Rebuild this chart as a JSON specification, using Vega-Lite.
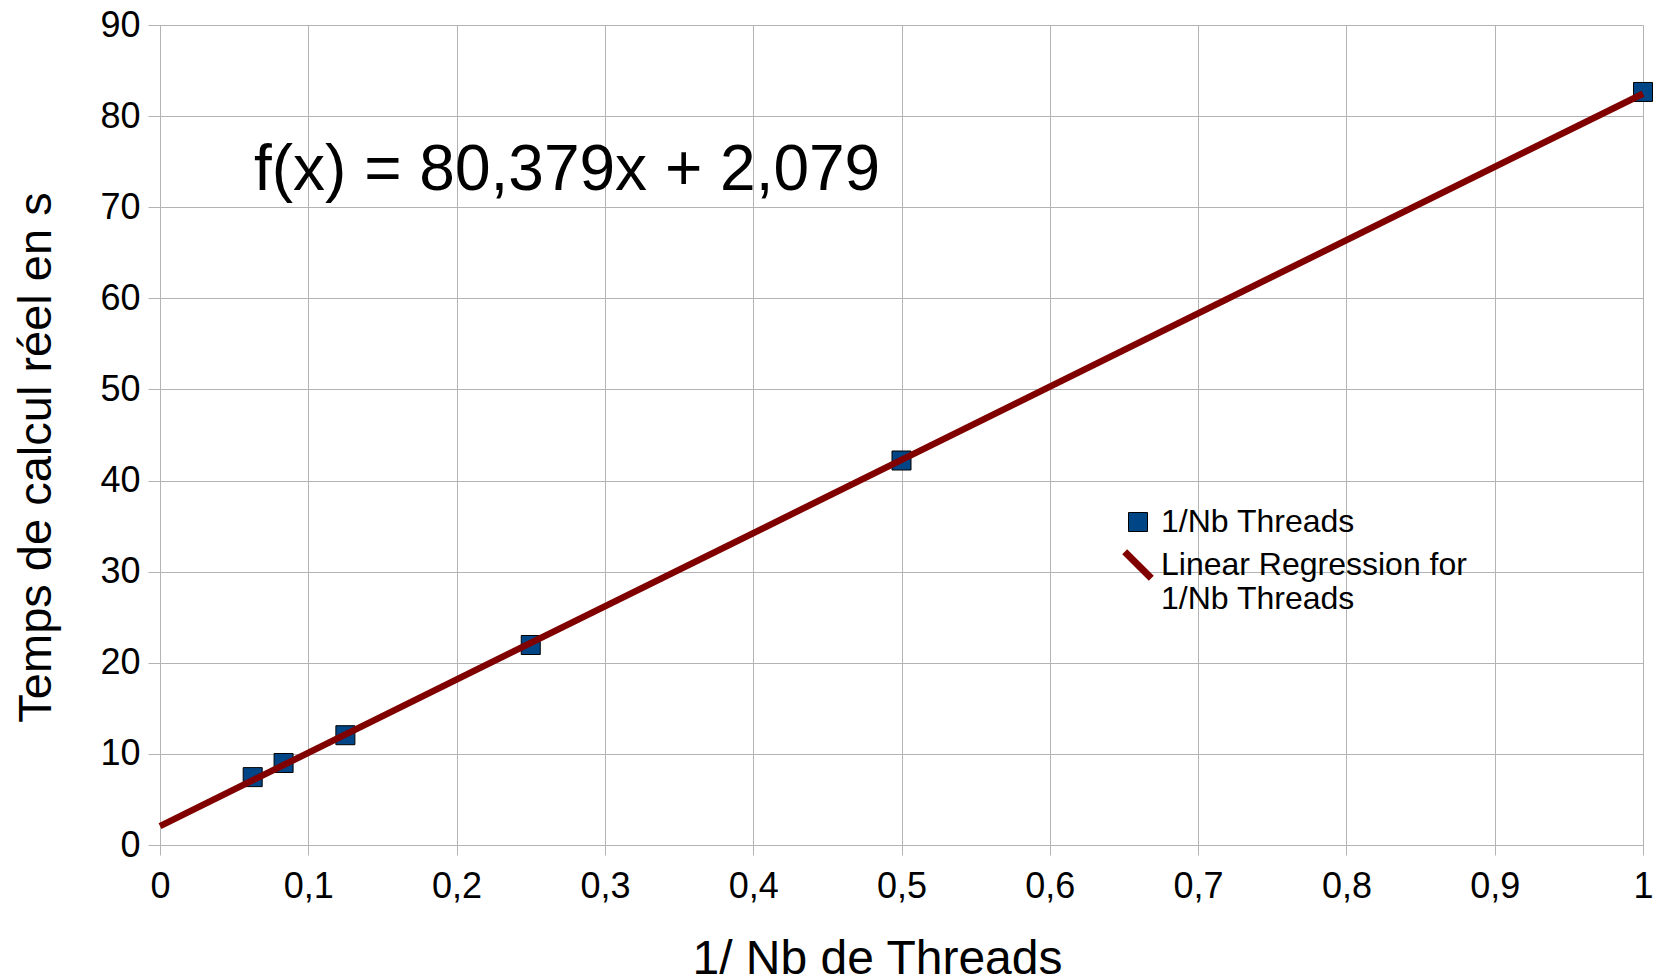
{
  "$schema": "https://vega.github.io/schema/vega-lite/v6.json",
  "width": 1483,
  "height": 820,
  "autosize": {"type": "none"},
  "padding": {"left": 160, "top": 25, "right": 10, "bottom": 134},
  "background": "white",
  "config": {
    "font": "Liberation Sans",
    "view": {"stroke": null},
    "axis": {
      "gridColor": "#b3b3b3",
      "gridWidth": 1,
      "domainColor": "#b3b3b3",
      "domainWidth": 1,
      "tickColor": "#b3b3b3",
      "labelColor": "black",
      "titleColor": "black",
      "labelFont": "Liberation Sans",
      "titleFont": "Liberation Sans",
      "titleFontWeight": "normal",
      "labelFlush": false,
      "labelOverlap": false
    },
    "legend": {
      "labelFont": "Liberation Sans",
      "labelFontSize": 32,
      "labelColor": "black",
      "labelLimit": 0,
      "padding": 0
    }
  },
  "datasets": {
    "points": [
      {"x": 0.0625, "y": 7.45},
      {"x": 0.08333, "y": 9.0},
      {"x": 0.125, "y": 12.05},
      {"x": 0.25, "y": 21.95},
      {"x": 0.5, "y": 42.2},
      {"x": 1.0, "y": 82.65}
    ],
    "fit": [
      {"x": 0, "y": 2.079},
      {"x": 1, "y": 82.458}
    ],
    "eq": [
      {"x": 0.0634, "y": 71.9, "label": "f(x) = 80,379x + 2,079"}
    ]
  },
  "layer": [
    {
      "data": {"name": "points"},
      "mark": {"type": "point", "shape": "square", "filled": true, "size": 361, "stroke": "black", "strokeWidth": 1, "opacity": 1, "clip": false},
      "encoding": {
        "x": {
          "field": "x", "type": "quantitative",
          "scale": {"domain": [0, 1], "nice": false, "zero": false},
          "axis": {
            "values": [0, 0.1, 0.2, 0.3, 0.4, 0.5, 0.6, 0.7, 0.8, 0.9, 1],
            "labelExpr": "replace(format(datum.value, '~g'), '.', ',')",
            "labelFontSize": 36,
            "labelPadding": 14,
            "tickSize": 10,
            "grid": true,
            "title": "1/ Nb de Threads",
            "titleFontSize": 48,
            "titleX": 717,
            "titleY": 128,
            "titleAlign": "center",
            "titleBaseline": "alphabetic"
          }
        },
        "y": {
          "field": "y", "type": "quantitative",
          "scale": {"domain": [0, 90], "nice": false},
          "axis": {
            "values": [0, 10, 20, 30, 40, 50, 60, 70, 80, 90],
            "labelFontSize": 36,
            "labelPadding": 8,
            "tickSize": 12,
            "grid": true,
            "title": "Temps de calcul réel en s",
            "titleFontSize": 47,
            "titleAngle": -90,
            "titleX": -110,
            "titleY": 432,
            "titleAlign": "center",
            "titleBaseline": "alphabetic"
          }
        },
        "fill": {
          "datum": "1/Nb Threads",
          "type": "nominal",
          "scale": {"domain": ["1/Nb Threads"], "range": ["#004586"]},
          "legend": {
            "orient": "none",
            "legendX": 962,
            "legendY": 481,
            "title": null,
            "labelOffset": 7,
            "symbolSize": 361,
            "symbolType": "square",
            "symbolFillColor": "#004586",
            "symbolStrokeColor": "black",
            "symbolStrokeWidth": 1,
            "symbolOpacity": 1
          }
        }
      }
    },
    {
      "data": {"name": "fit"},
      "mark": {"type": "line", "strokeWidth": 6.5, "strokeCap": "butt"},
      "encoding": {
        "x": {"field": "x", "type": "quantitative"},
        "y": {"field": "y", "type": "quantitative"},
        "stroke": {
          "datum": "Linear Regression for 1/Nb Threads",
          "type": "nominal",
          "scale": {"domain": ["Linear Regression for 1/Nb Threads"], "range": ["#800000"]},
          "legend": {
            "orient": "none",
            "legendX": 962,
            "legendY": 524,
            "title": null,
            "labelOffset": 7,
            "symbolSize": 361,
            "symbolType": "M-1.4,-1.4L1.4,1.4",
            "symbolStrokeColor": "#800000",
            "symbolStrokeWidth": 7,
            "symbolOpacity": 1,
            "labelExpr": "['Linear Regression for', '1/Nb Threads']"
          }
        }
      }
    },
    {
      "data": {"name": "eq"},
      "mark": {"type": "text", "fontSize": 64, "align": "left", "baseline": "alphabetic", "color": "black", "font": "Liberation Sans"},
      "encoding": {
        "x": {"field": "x", "type": "quantitative"},
        "y": {"field": "y", "type": "quantitative"},
        "text": {"field": "label"}
      }
    }
  ]
}
